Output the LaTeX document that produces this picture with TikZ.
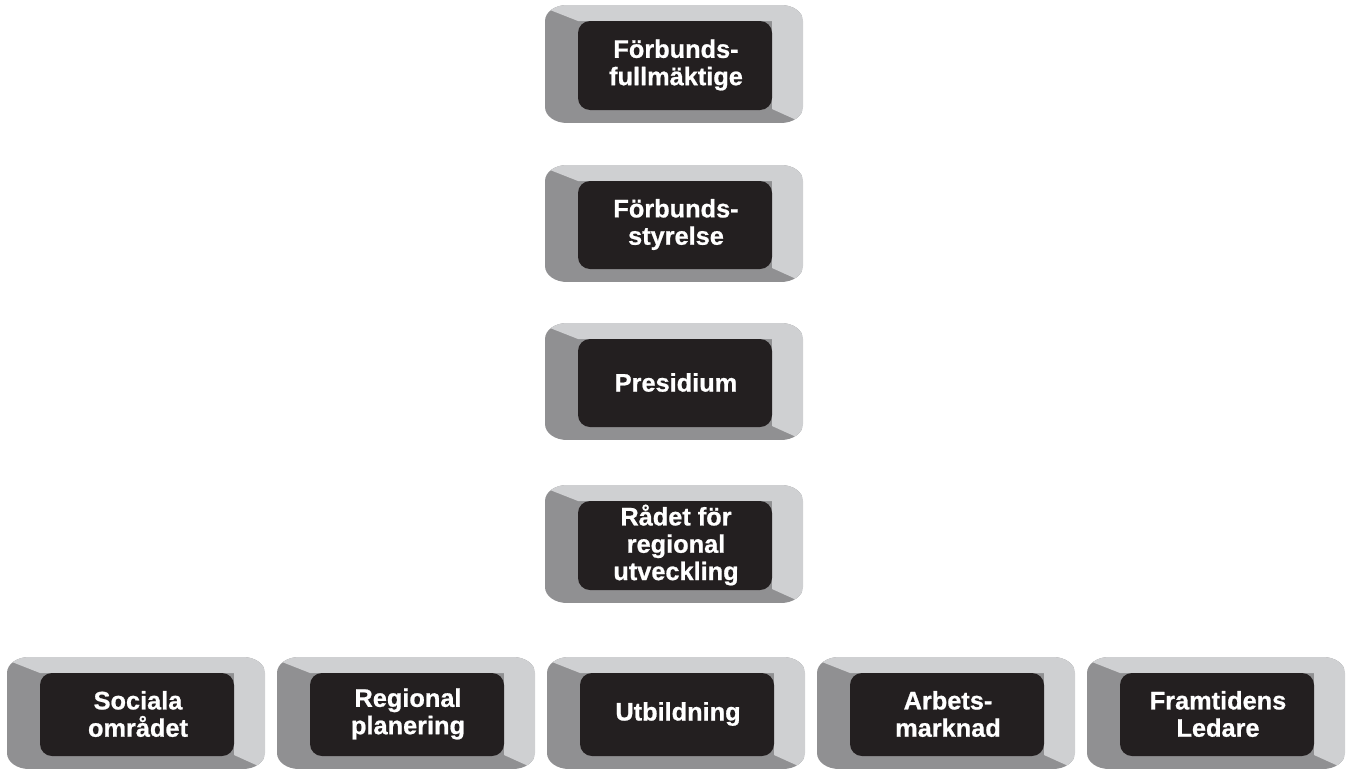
\documentclass[tikz,border=0pt]{standalone}
\usepackage{fontspec}
\setmainfont{Liberation Sans}[BoldFeatures={FakeBold=0.8}]
\definecolor{bdark}{HTML}{909092}
\definecolor{blight}{HTML}{CFD0D2}
\definecolor{bink}{HTML}{231F20}
\tikzset{
  boxtext/.style={text=white, align=center, inner sep=0pt,
    font=\bfseries\fontsize{19}{20.5}\selectfont},
}
\newcommand\bevbox[6]{%
  \begin{scope}
    \path[clip] (#2,#3+16) .. controls (#2,#3+7) and (#2+10,#3) .. (#2+22,#3) -- (#4-22,#3)
      .. controls (#4-10,#3) and (#4,#3+7) .. (#4,#3+16) -- (#4,#5-16)
      .. controls (#4,#5-7) and (#4-10,#5) .. (#4-22,#5) -- (#2+22,#5)
      .. controls (#2+10,#5) and (#2,#5-7) .. (#2,#5-16) -- cycle;
    \fill[bdark] (#2,#3) rectangle (#4,#5);
    \fill[blight] (#2+5,#3+5) -- (#2+33,#3+16) -- (#4-31,#3+16) -- (#4-31,#5-14) -- (#4,#5) -- (#4,#3) -- (#2,#3) -- cycle;
  \end{scope}
  \fill[bink, rounded corners=9pt] (#2+33,#3+16) rectangle (#4-31,#5-13);
  \node[boxtext] (#1) at ({(#2+#4)/2+2},{(#3+#5)/2+1}) {#6};
}
\begin{document}
\begin{tikzpicture}[x=0.75pt, y=-0.75pt]
  \useasboundingbox (0,0) rectangle (1355,771);
  \bevbox{ff}{545}{5}{803}{123}{Förbunds-\\fullmäktige}
  \bevbox{fs}{545}{165}{803}{282}{Förbunds-\\styrelse}
  \bevbox{pr}{545}{323}{803}{440}{Presidium}
  \bevbox{rr}{545}{485}{803}{603}{Rådet för\\regional\\utveckling}
  \bevbox{so}{7}{657}{265}{769}{Sociala\\området}
  \bevbox{rp}{277}{657}{535}{769}{Regional\\planering}
  \bevbox{ut}{547}{657}{805}{769}{Utbildning}
  \bevbox{am}{817}{657}{1075}{769}{Arbets-\\marknad}
  \bevbox{fl}{1087}{657}{1345}{769}{Framtidens\\Ledare}
\end{tikzpicture}
\end{document}
